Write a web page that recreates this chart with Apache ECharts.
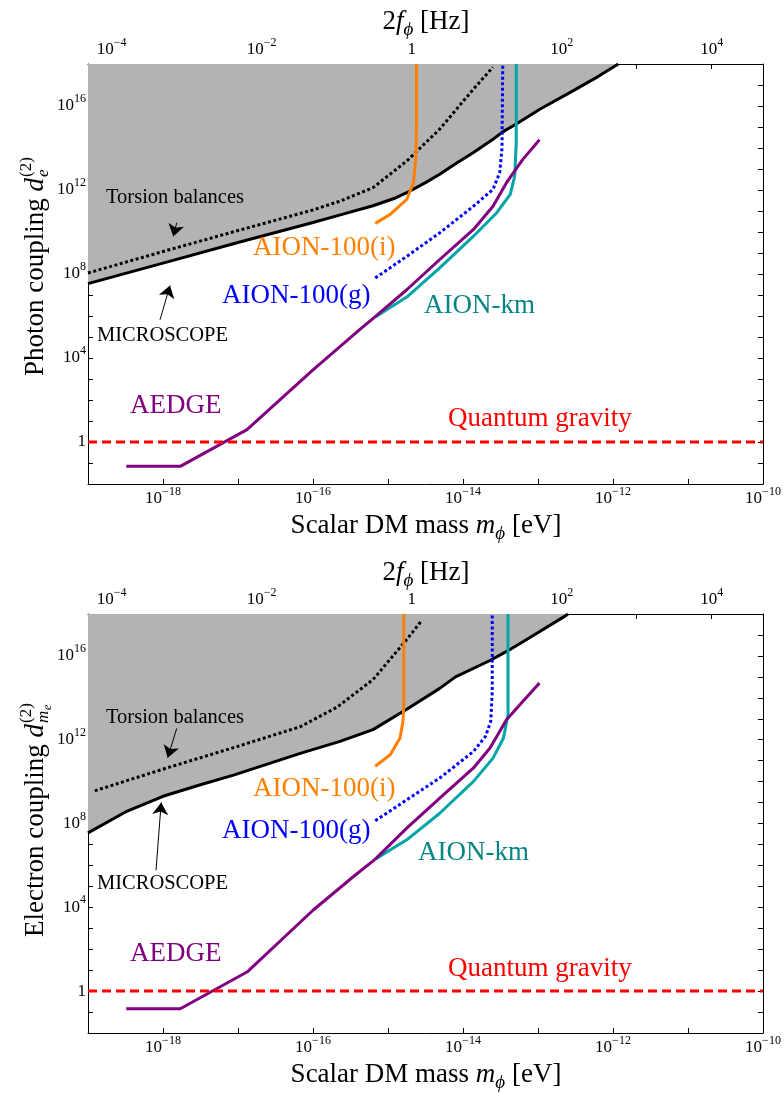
<!DOCTYPE html>
<html><head><meta charset="utf-8">
<script src="https://cdn.jsdelivr.net/npm/echarts@6/dist/echarts.min.js"></script>
<style>html,body{margin:0;padding:0;background:#fff}#c{width:784px;height:1093px}</style>
</head><body><div id="c"></div>
<script>
// All series values are [log10(m_phi / eV), log10(coupling)]
const massRange = [-19, -10];
const couplingRange = [-2, 18];
const massLabelExps = [-18, -16, -14, -12, -10];
const couplingLabelExps = [0, 4, 8, 12, 16];
const freqTickExps = [-4, -3, -2, -1, 0, 1, 2, 3, 4];
const freqLabelExps = [-4, -2, 0, 2, 4];
const HZ_OFFSET = Math.log10(2 / 4.135667696e-15); // log10(2f/Hz) = log10(m/eV) + offset

// ---- Photon coupling panel ----
const photonMicroscope = [[-19,7.54],[-18,8.52],[-17,9.5],[-16,10.45],[-15.6,10.85],[-15.2,11.25],[-14.9,11.62],[-14.75,11.87],[-14.5,12.35],[-14.31,12.75],[-14.1,13.25],[-13.86,13.79],[-13.6,14.42],[-13.47,14.77],[-13.29,15.14],[-12.97,15.86],[-12.57,16.65],[-12.2,17.4],[-11.93,18]];
const photonTorsion = [[-19,8.05],[-18,9.07],[-17,10.07],[-16,11.05],[-15.64,11.47],[-15.2,12.11],[-14.75,13.38],[-14.31,14.9],[-13.86,16.81],[-13.6,17.85]];
const photonAion100i = [[-15.17,10.41],[-14.97,10.84],[-14.75,11.55],[-14.66,12.35],[-14.63,13.47],[-14.62,15],[-14.62,18]];
const photonAion100g = [[-15.17,7.81],[-14.75,8.84],[-14.31,9.96],[-13.86,11.23],[-13.6,12.03],[-13.51,12.83],[-13.48,14.0],[-13.47,18]];
const photonAionKm = [[-15.17,5.95],[-14.75,6.9],[-14.31,8.29],[-13.86,9.8],[-13.55,10.92],[-13.37,11.79],[-13.31,12.67],[-13.29,14.26],[-13.29,18]];
const photonAedge = [[-18.49,-1.16],[-17.77,-1.16],[-16.88,0.59],[-16.0,3.43],[-15.37,5.37],[-15.17,5.97],[-14.75,7.25],[-14.31,8.69],[-13.86,10.12],[-13.6,11.23],[-13.42,12.35],[-13.2,13.47],[-12.98,14.39]];

// ---- Electron coupling panel ----
const electronMicroscope = [[-19,7.55],[-18.5,8.55],[-18,9.3],[-17.5,9.85],[-17.06,10.31],[-16.17,11.35],[-15.64,11.92],[-15.2,12.48],[-14.75,13.45],[-14.31,14.45],[-14.1,15.0],[-13.64,15.78],[-13.4,16.25],[-13.19,16.7],[-12.64,17.9],[-12.6,18]];
const electronTorsion = [[-18.91,9.56],[-17.95,10.65],[-17.06,11.62],[-16.17,12.62],[-15.68,13.55],[-15.2,14.87],[-14.75,16.78],[-14.55,17.69]];
const electronAion100i = [[-15.17,10.73],[-14.97,11.28],[-14.84,12.08],[-14.8,12.88],[-14.79,13.6],[-14.79,18]];
const electronAion100g = [[-15.17,8.13],[-14.75,9.13],[-14.31,10.17],[-13.86,11.44],[-13.7,12.16],[-13.63,12.88],[-13.61,14.31],[-13.61,18]];
const electronAionKm = [[-15.17,6.3],[-14.75,7.22],[-14.31,8.49],[-13.86,10.01],[-13.6,11.12],[-13.46,12.08],[-13.4,13.19],[-13.4,18]];
const electronAedge = [[-18.49,-0.84],[-17.77,-0.84],[-16.88,0.91],[-16.0,3.86],[-15.46,5.47],[-15.17,6.3],[-14.75,7.78],[-14.31,9.21],[-13.86,10.65],[-13.64,11.6],[-13.42,12.95],[-13.2,13.83],[-12.98,14.71]];

const quantumGravity = [[-19,0],[-10,0]];

// annotation arrows: [from, to] in data coordinates
const photonArrows = [[[-17.817,10.44],[-17.863,9.79]], [[-18.04,5.82],[-17.907,7.45]]];
const electronArrows = [[[-17.817,12.54],[-17.937,11.14]], [[-18.093,5.77],[-18.024,9.0]]];

const FONT = '"Liberation Serif","Times New Roman",Times,serif';
const C = {black:'#000000', gray:'#b3b3b3', orange:'#ff8000', blue:'#0000ff', teal:'#00a6a6', tealText:'#0a8585', purple:'#800080', red:'#ff0000'};

function powLabel(v) {
  const n = Math.round(v);
  if (n === 0) return '{m|1}';
  return '{m|10}{s|' + (n < 0 ? '\u2212' + (-n) : String(n)) + '}';
}
const tickRich = {
  m: {fontFamily: FONT, fontSize: 17, lineHeight: 26, verticalAlign: 'middle', color: '#000'},
  s: {fontFamily: FONT, fontSize: 12, lineHeight: 12, verticalAlign: 'top', color: '#000'}
};
function onlyAt(list) {
  return function (v) {
    const n = Math.round(v);
    return (Math.abs(v - n) < 1e-6 && list.indexOf(n) >= 0) ? powLabel(n) : '';
  };
}
const lineAx = {show: true, onZero: false, lineStyle: {color: '#000', width: 1}};
const tickAx = {show: true, inside: true, length: 5, lineStyle: {color: '#000', width: 1}};

function axesFor(g) {
  const xs = [
    {type: 'value', gridIndex: g, position: 'bottom', min: massRange[0], max: massRange[1], interval: 1,
     axisLine: lineAx, axisTick: tickAx, splitLine: {show: false},
     axisLabel: {margin: 2, formatter: onlyAt(massLabelExps), rich: tickRich}},
    {type: 'value', gridIndex: g, position: 'top', min: massRange[0] + HZ_OFFSET, max: massRange[1] + HZ_OFFSET,
     axisLine: lineAx, splitLine: {show: false},
     axisTick: Object.assign({customValues: freqTickExps}, tickAx),
     axisLabel: {margin: 1, customValues: freqLabelExps, formatter: v => powLabel(v), rich: tickRich}}
  ];
  const ys = [
    {type: 'value', gridIndex: g, position: 'left', min: couplingRange[0], max: couplingRange[1], interval: 1,
     axisLine: lineAx, axisTick: tickAx, splitLine: {show: false},
     axisLabel: {margin: 2, formatter: onlyAt(couplingLabelExps), rich: tickRich}},
    {type: 'value', gridIndex: g, position: 'right', min: couplingRange[0], max: couplingRange[1], interval: 1,
     axisLine: lineAx, axisTick: tickAx, splitLine: {show: false}, axisLabel: {show: false}}
  ];
  return {xs, ys};
}

function line(data, ax, color, width, type, z, extra) {
  return Object.assign({
    type: 'line', data: data, xAxisIndex: ax, yAxisIndex: ax, symbol: 'none', showSymbol: false,
    animation: false, silent: true, z: z, clip: true,
    lineStyle: {color: color, width: width, type: type || 'solid', cap: 'butt', join: 'round'}
  }, extra || {});
}
function arrows(list) {
  return {
    silent: true, animation: false, symbol: ['none', 'arrow'], symbolSize: 12,
    label: {show: false}, emphasis: {disabled: true},
    lineStyle: {color: '#000', width: 1, type: 'solid'},
    itemStyle: {color: '#000'},
    data: list.map(a => [{coord: a[0]}, {coord: a[1]}])
  };
}
function panelSeries(ax, d) {
  return [
    line(d.mic, ax, C.black, 3, 'solid', 2, {areaStyle: {color: C.gray, opacity: 1, origin: 'end'}}),
    line(d.tor, ax, C.black, 3, [3, 2.5], 3, {markLine: arrows(d.arrows)}),
    line(d.ai, ax, C.orange, 3, 'solid', 4),
    line(d.ag, ax, C.blue, 3, [3, 2.5], 4),
    line(d.km, ax, C.teal, 3, 'solid', 4),
    line(d.ae, ax, C.purple, 3, 'solid', 5),
    line(quantumGravity, ax, C.red, 3, [9, 5], 5)
  ];
}

function txt(text, x, y, color, size, extra) {
  return {type: 'text', x: x, y: y, silent: true, z: 100,
    style: Object.assign({text: text, fill: color, fontFamily: FONT, fontSize: size,
      align: 'left', verticalAlign: 'middle', textAlign: 'left', textVerticalAlign: 'middle'}, extra || {})};
}
function panelLabels(p) {
  return [
    txt('Torsion balances', 106, p.tor, C.black, 20.5),
    txt('MICROSCOPE', 97, p.mic, C.black, 20.5),
    txt('AION-100(i)', 253, p.ai, C.orange, 27),
    txt('AION-100(g)', 222, p.ag, C.blue, 27),
    txt('AION-km', p.kmx, p.km, C.tealText, 27),
    txt('AEDGE', 130, p.ae, C.purple, 27),
    txt('Quantum gravity', 448, p.qg, C.red, 27)
  ];
}
const titleRich = {
  i: {fontFamily: FONT, fontStyle: 'italic', fontSize: 27, lineHeight: 34, verticalAlign: 'middle'},
  sub: {fontFamily: FONT, fontStyle: 'italic', fontSize: 19, lineHeight: 18, verticalAlign: 'bottom'}
};
function hTitle(text, x, y) {
  return txt(text, x, y, '#000', 27, {align: 'center', textAlign: 'center', lineHeight: 34, rich: titleRich});
}
function yTitle(main, x, y, subParts) {
  const children = [
    txt(main, 0, 0, '#000', 27, {align: 'right', textAlign: 'right', rich: {i: {fontFamily: FONT, fontStyle: 'italic', fontSize: 27}}}),
    txt('(2)', 1, -9, '#000', 17)
  ].concat(subParts);
  return {type: 'group', x: x, y: y, rotation: Math.PI / 2, children: children};
}

const a0 = axesFor(0), a1 = axesFor(1);
const option = {
  backgroundColor: '#ffffff',
  animation: false,
  grid: [
    {left: 88, top: 64, width: 675, height: 420, containLabel: false},
    {left: 88, top: 614, width: 675, height: 419, containLabel: false}
  ],
  xAxis: [a0.xs[0], a0.xs[1], a1.xs[0], a1.xs[1]],
  yAxis: [a0.ys[0], a0.ys[1], a1.ys[0], a1.ys[1]],
  series: [].concat(
    panelSeries(0, {mic: photonMicroscope, tor: photonTorsion, ai: photonAion100i, ag: photonAion100g, km: photonAionKm, ae: photonAedge, arrows: photonArrows}),
    panelSeries(2, {mic: electronMicroscope, tor: electronTorsion, ai: electronAion100i, ag: electronAion100g, km: electronAionKm, ae: electronAedge, arrows: electronArrows})
  ),
  graphic: {elements: [].concat(
    panelLabels({tor: 198, mic: 336, ai: 248, ag: 296, km: 306, kmx: 424, ae: 406, qg: 419}),
    panelLabels({tor: 718, mic: 884, ai: 789, ag: 831, km: 853, kmx: 418, ae: 954, qg: 969}),
    [hTitle('2{i|f}{sub|\u03d5} [Hz]', 426, 22), hTitle('2{i|f}{sub|\u03d5} [Hz]', 426, 573),
     hTitle('Scalar DM mass {i|m}{sub|\u03d5} [eV]', 426, 526), hTitle('Scalar DM mass {i|m}{sub|\u03d5} [eV]', 426, 1075),
     yTitle('Photon coupling {i|d}', 36, 178, [txt('e', 1, 8, '#000', 17, {fontStyle: 'italic'})]),
     yTitle('Electron coupling {i|d}', 36, 724, [txt('m', 1, 8, '#000', 17, {fontStyle: 'italic'}), txt('e', 14, 12, '#000', 12, {fontStyle: 'italic'})])]
  )}
};
const chart = echarts.init(document.getElementById('c'), null, {renderer: 'canvas', width: 784, height: 1093});
chart.setOption(option);
</script></body></html>
